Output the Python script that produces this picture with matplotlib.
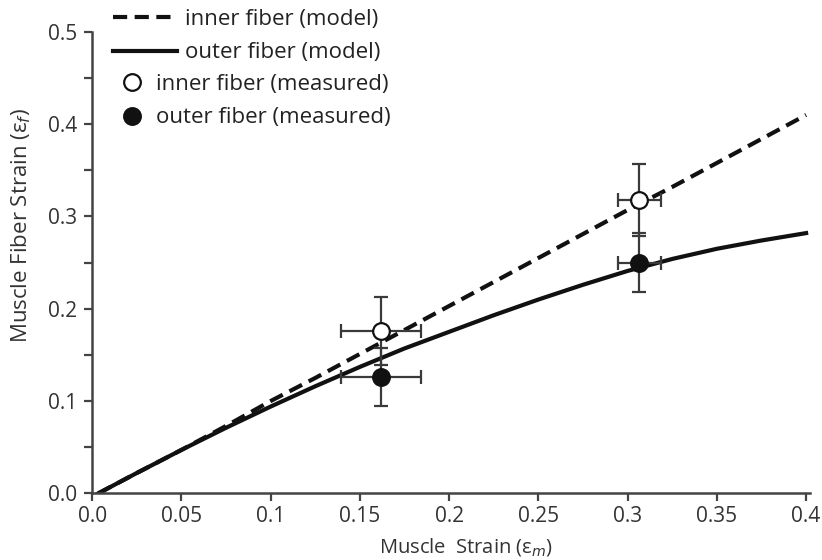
import matplotlib.pyplot as plt
from matplotlib.ticker import MultipleLocator

plt.rcParams['font.family'] = ['Open Sans', 'DejaVu Sans']

# model curves
strain_m = [0.0035, 0.025, 0.05, 0.075, 0.1, 0.125, 0.15, 0.175, 0.2,
            0.225, 0.25, 0.275, 0.3, 0.325, 0.35, 0.375, 0.4]
inner_model = [0.0, 0.022, 0.047, 0.073, 0.100, 0.125, 0.151, 0.177, 0.203,
               0.229, 0.255, 0.281, 0.307, 0.332, 0.358, 0.384, 0.410]
outer_model = [0.0, 0.022, 0.047, 0.071, 0.094, 0.116, 0.137, 0.157, 0.175,
               0.193, 0.210, 0.226, 0.241, 0.254, 0.265, 0.274, 0.282]

# measured points
meas_x = [0.162, 0.3065]
meas_xerr = [0.0225, 0.012]
inner_meas = [0.176, 0.318]
inner_err = [0.037, 0.039]
outer_meas = [0.126, 0.250]
outer_err = [0.031, 0.032]

xticks = [0.0, 0.05, 0.1, 0.15, 0.2, 0.25, 0.3, 0.35, 0.4]
xtick_labels = ['0.0', '0.05', '0.1', '0.15', '0.2', '0.25', '0.3', '0.35', '0.4']
yticks = [0.0, 0.1, 0.2, 0.3, 0.4, 0.5]

ink = '#111111'
grey = '#3a3a3a'
text_col = '#333333'

fig = plt.figure(figsize=(8.22, 5.6), dpi=100)
ax = fig.add_axes([0.112, 0.119, 0.873, 0.824])

h_inner, = ax.plot(strain_m, inner_model, color=ink, lw=3, ls=(0, (3.4, 1.8)),
                   label='inner fiber (model)', zorder=2)
h_outer, = ax.plot(strain_m, outer_model, color=ink, lw=3,
                   label='outer fiber (model)', zorder=2)

ax.errorbar(meas_x, outer_meas, yerr=outer_err, xerr=meas_xerr, fmt='none',
            ecolor=grey, elinewidth=1.6, capsize=5, capthick=1.6, zorder=3)
ax.errorbar(meas_x, inner_meas, yerr=inner_err, xerr=meas_xerr, fmt='none',
            ecolor=grey, elinewidth=1.6, capsize=5, capthick=1.6, zorder=3)
h_open, = ax.plot(meas_x, inner_meas, 'o', ms=12, mfc='white', mec=ink, mew=1.6,
                  label='inner fiber (measured)', zorder=4)
h_fill, = ax.plot(meas_x, outer_meas, 'o', ms=12, mfc=ink, mec=ink, mew=1.6,
                  label='outer fiber (measured)', zorder=4)

ax.set_xlim(0, 0.402)
ax.set_ylim(0, 0.5)
ax.spines['top'].set_visible(False)
ax.spines['right'].set_visible(False)
for side in ['left', 'bottom']:
    ax.spines[side].set_linewidth(1.8)
    ax.spines[side].set_color('#444444')

ax.set_xticks(xticks)
ax.set_xticklabels(xtick_labels)
ax.set_yticks(yticks)
ax.set_yticklabels([f'{v:.1f}' for v in yticks])
ax.yaxis.set_minor_locator(MultipleLocator(0.05))
ax.tick_params(which='both', direction='out', length=6, width=1.6,
               color='#444444', labelsize=15, labelcolor=text_col)
ax.tick_params(axis='x', pad=3)
ax.tick_params(axis='y', pad=5)

ax.set_xlabel('Muscle  Strain (ε$_m$)', fontsize=14.5, color=text_col)
ax.set_ylabel('Muscle Fiber Strain (ε$_f$)', fontsize=16, color=text_col)
ax.xaxis.set_label_coords(0.521, -0.092)
ax.yaxis.set_label_coords(-0.083, 0.58)

leg_kw = dict(loc='upper left', frameon=False, fontsize=16, borderpad=0,
              borderaxespad=0, labelspacing=0.56)
leg1 = fig.legend(handles=[h_inner, h_outer], handlelength=2.9,
                  handletextpad=0.35, bbox_to_anchor=(113 / 822, 1 - 9 / 560),
                  **leg_kw)
leg2 = fig.legend(handles=[h_open, h_fill], handlelength=1.75,
                  handletextpad=0.18, bbox_to_anchor=(113 / 822, 1 - 74 / 560),
                  **leg_kw)
for leg in (leg1, leg2):
    for t in leg.get_texts():
        t.set_color('#222222')

fig.savefig('out.png', dpi=100)
